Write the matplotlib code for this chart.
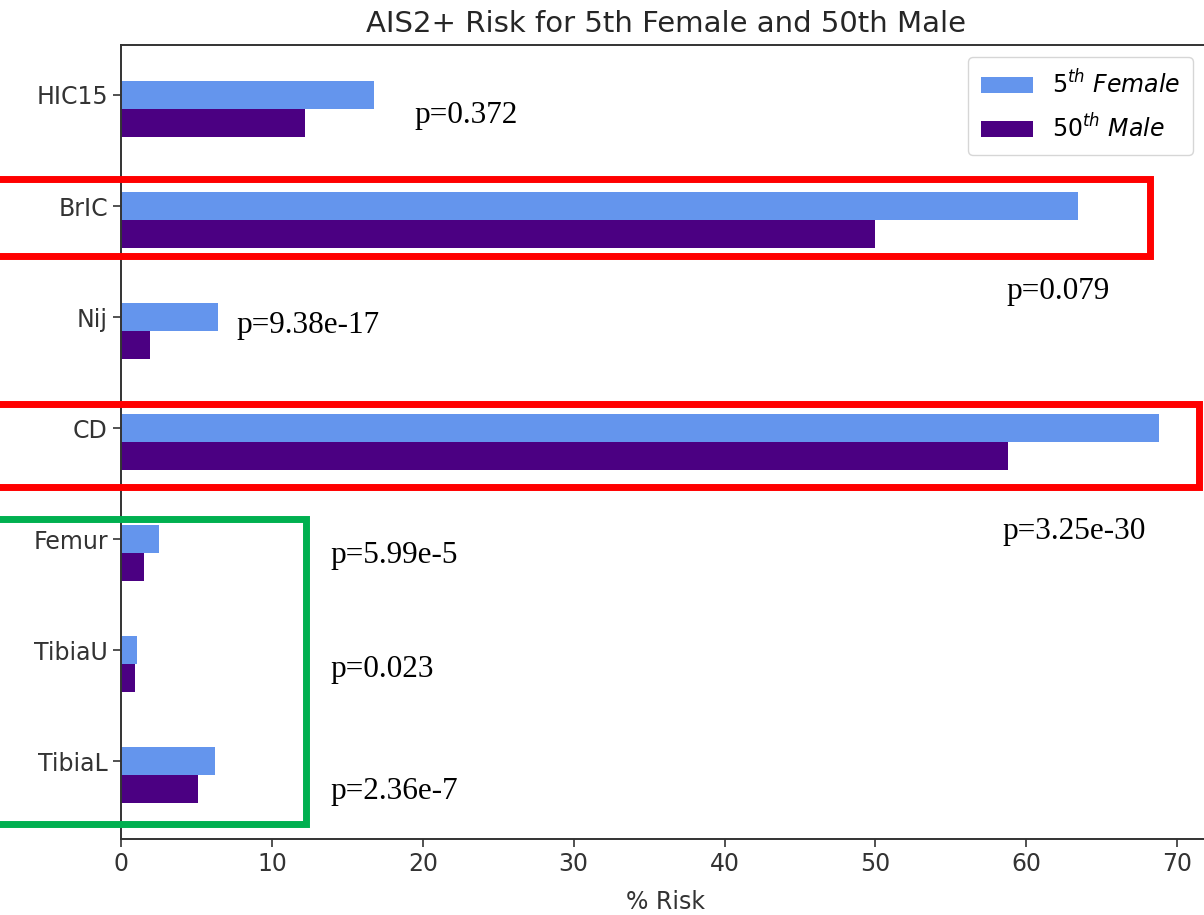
import matplotlib
matplotlib.use("Agg")
import matplotlib.pyplot as plt
import numpy as np
from matplotlib.patches import Rectangle

# Data
categories = ["HIC15", "BrIC", "Nij", "CD", "Femur", "TibiaU", "TibiaL"]
female_5th = [16.8, 63.4, 6.4, 68.8, 2.5, 1.05, 6.25]
male_50th = [12.2, 50.0, 1.9, 58.8, 1.55, 0.9, 5.1]
series_labels = [r"$5^{th}\ Female$", r"$50^{th}\ Male$"]
p_labels = ["p=0.372", "p=0.079", "p=9.38e-17", "p=3.25e-30",
            "p=5.99e-5", "p=0.023", "p=2.36e-7"]

W, H = 1204, 915
fig = plt.figure(figsize=(W / 100, H / 100), dpi=100)
ax = fig.add_axes([121 / W, 76 / H, 1090 / W, 794 / H])

y = np.arange(len(categories))
bar_h = 0.25
ax.barh(y, female_5th, height=bar_h, color="cornflowerblue",
        label=series_labels[0])
ax.barh(y + bar_h, male_50th, height=bar_h, color="indigo",
        label=series_labels[1])

ax.set_yticks(y)
ax.set_yticklabels(categories)
ax.invert_yaxis()
ax.set_xticks(np.arange(0, 71, 10))
ax.set_xlabel("% Risk", fontsize=17, color="#333333", labelpad=10)
ax.set_title("AIS2+ Risk for 5th Female and 50th Male", fontsize=21,
             color="#262626", pad=9)
ax.tick_params(labelsize=17, colors="#333333", length=6, width=1.2)
for s in ax.spines.values():
    s.set_linewidth(1.4)
    s.set_color("#333333")

ax.legend(loc="upper right", fontsize=17, borderpad=0.55,
          handlelength=2.2, labelspacing=0.65,
          bbox_to_anchor=((1205 - 121) / 1090, 1.0))

# overlay annotations (figure pixel positions, y from top)
def fig_rect(x0, y0, x1, y1, color, lw):
    fig.patches.append(Rectangle((x0 / W, 1 - y1 / H), (x1 - x0) / W,
                                 (y1 - y0) / H, fill=False, edgecolor=color,
                                 linewidth=lw, transform=fig.transFigure,
                                 figure=fig))

fig_rect(-10, 179, 1150, 256, "#FF0000", 5)
fig_rect(-10, 404, 1199, 487, "#FF0000", 5)
fig_rect(-10, 519, 306, 824, "#00B050", 5)

p_pos = [(414, 116), (1006, 292), (236, 325), (1002, 531),
         (330, 556), (330, 670), (330, 791)]
for label, (px, py) in zip(p_labels, p_pos):
    fig.text(px / W, 1 - py / H, label, fontsize=22.5,
             family="Liberation Serif", va="center", ha="left")

fig.savefig("out.png", dpi=100)
